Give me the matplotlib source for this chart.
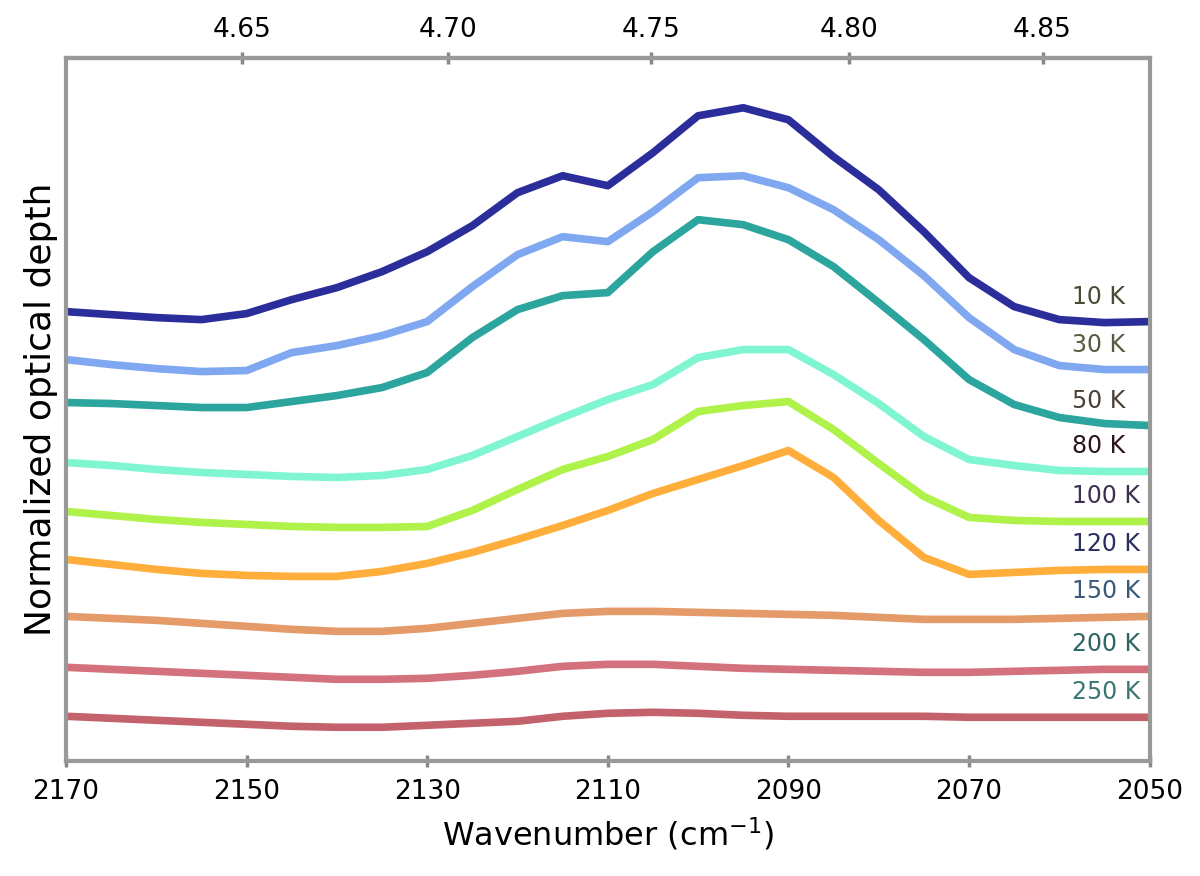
import numpy as np
import matplotlib
matplotlib.use("Agg")
import matplotlib.pyplot as plt

# wavenumber grid (cm^-1), decreasing left to right
wavenumber = np.arange(2170, 2049, -5)

# traced spectra, already stacked with offsets (top curve first)
tau_10K = [4.50, 4.47, 4.44, 4.42, 4.48, 4.62, 4.74, 4.90, 5.10, 5.36, 5.69, 5.86, 5.76,
           6.09, 6.46, 6.54, 6.42, 6.05, 5.72, 5.30, 4.84, 4.55, 4.42, 4.39, 4.40]
tau_30K = [4.02, 3.97, 3.93, 3.90, 3.91, 4.09, 4.16, 4.26, 4.40, 4.75, 5.07, 5.25, 5.20,
           5.50, 5.84, 5.86, 5.74, 5.52, 5.22, 4.86, 4.44, 4.12, 3.96, 3.92, 3.92]
tau_50K = [3.59, 3.58, 3.56, 3.54, 3.54, 3.60, 3.66, 3.74, 3.89, 4.24, 4.52, 4.66, 4.69,
           5.10, 5.42, 5.37, 5.22, 4.95, 4.59, 4.22, 3.82, 3.57, 3.44, 3.38, 3.36]
tau_80K = [2.99, 2.96, 2.92, 2.89, 2.87, 2.85, 2.84, 2.86, 2.92, 3.06, 3.25, 3.44, 3.62,
           3.77, 4.04, 4.12, 4.12, 3.87, 3.58, 3.25, 3.02, 2.96, 2.91, 2.90, 2.90]
tau_100K = [2.50, 2.46, 2.42, 2.39, 2.37, 2.35, 2.34, 2.34, 2.35, 2.51, 2.72, 2.92, 3.05,
            3.22, 3.50, 3.56, 3.60, 3.32, 2.98, 2.65, 2.44, 2.41, 2.40, 2.40, 2.40]
tau_120K = [2.02, 1.97, 1.92, 1.88, 1.86, 1.85, 1.85, 1.90, 1.98, 2.09, 2.22, 2.36, 2.51,
            2.68, 2.82, 2.96, 3.11, 2.84, 2.41, 2.04, 1.87, 1.89, 1.91, 1.92, 1.92]
tau_150K = [1.45, 1.43, 1.41, 1.38, 1.35, 1.32, 1.30, 1.30, 1.33, 1.38, 1.43, 1.48, 1.50,
            1.50, 1.49, 1.48, 1.47, 1.46, 1.44, 1.42, 1.42, 1.42, 1.43, 1.44, 1.45]
tau_200K = [0.94, 0.92, 0.90, 0.88, 0.86, 0.84, 0.82, 0.82, 0.83, 0.86, 0.90, 0.95, 0.97,
            0.97, 0.95, 0.93, 0.92, 0.91, 0.90, 0.89, 0.89, 0.90, 0.91, 0.92, 0.92]
tau_250K = [0.45, 0.43, 0.41, 0.39, 0.37, 0.35, 0.34, 0.34, 0.36, 0.38, 0.40, 0.45, 0.48,
            0.49, 0.48, 0.46, 0.45, 0.45, 0.45, 0.45, 0.44, 0.44, 0.44, 0.44, 0.44]

spectra = [tau_10K, tau_30K, tau_50K, tau_80K, tau_100K, tau_120K, tau_150K, tau_200K, tau_250K]
temps = ["10 K", "30 K", "50 K", "80 K", "100 K", "120 K", "150 K", "200 K", "250 K"]

line_colors = ['#2b2d9b', '#7fa8f0', '#2ca59e', '#80f5d2', '#aef24a',
               '#ffae3c', '#e59a6a', '#d3727c', '#c4626c']
text_colors = ['#4a4a35', '#5a5a40', '#4d4035', '#2e1420', '#3e3050',
               '#2a2f60', '#3a5a7a', '#2f6464', '#3a7676']

fig = plt.figure(figsize=(12, 8.76), dpi=100)
ax = fig.add_axes([0.055, 0.131, 0.903, 0.803])

for tau, col in zip(spectra, line_colors):
    ax.plot(wavenumber, tau, color=col, lw=5.5, solid_joinstyle='round', solid_capstyle='round')

for tau, t, tc in zip(spectra, temps, text_colors):
    ax.text(2058.6, tau[-1] + 0.25, t, fontsize=17, color=tc, ha='left', va='center')

ax.set_xlim(2170, 2050)
ax.set_ylim(0, 7.04)
ax.set_xticks([2170, 2150, 2130, 2110, 2090, 2070, 2050])
ax.set_yticks([])
ax.tick_params(axis='x', labelsize=19, direction='inout', length=9, width=2.5,
               color='#888888', pad=8)
ax.set_xlabel("Wavenumber (cm$^{-1}$)", fontsize=23, labelpad=8)
ax.set_ylabel("Normalized optical depth", fontsize=26, labelpad=6)

for sp in ax.spines.values():
    sp.set_color('#999999')
    sp.set_linewidth(3)

top = ax.secondary_xaxis('top', functions=(lambda nu: 1e4 / nu, lambda lam: 1e4 / lam))
top.set_xticks([4.65, 4.70, 4.75, 4.80, 4.85])
top.tick_params(labelsize=19, direction='inout', length=9, width=2.5, color='#888888', pad=6)
top.spines['top'].set_color('#999999')
top.spines['top'].set_linewidth(3)

fig.savefig("out.png", dpi=100)
